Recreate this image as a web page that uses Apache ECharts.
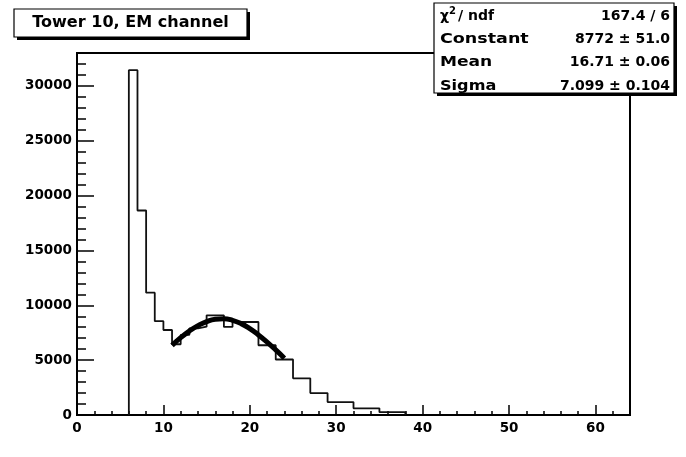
<!DOCTYPE html>
<html>
<head>
<meta charset="utf-8">
<script src="https://cdn.jsdelivr.net/npm/echarts@6/dist/echarts.min.js"></script>
<style>
html,body{margin:0;padding:0;background:#fff;}
#c{width:686px;height:457px;}
</style>
</head>
<body>
<div id="c"></div>
<script>
// Histogram bins (low edges ... last high edge) and counts
const binEdges = [6, 7, 8, 9, 10, 11, 12, 13, 14, 15, 17, 18, 21, 23, 25, 27, 29, 32, 35, 38];
const binCounts = [31430, 18640, 11150, 8550, 7750, 6450, 7300, 7900, 8050, 9090, 8030, 8480, 6360, 5060, 3340, 2000, 1180, 610, 260];
// Fit curve points
const fitX = [11, 12, 13, 14, 15, 16, 17, 18, 19, 20, 21, 22, 23, 24];
const fitY = [6350, 7050, 7650, 8150, 8520, 8730, 8770, 8630, 8330, 7880, 7300, 6650, 5930, 5180];
// Text
const titleText = 'Tower 10, EM channel';
const statLabels = ['Constant', 'Mean', 'Sigma'];
const statValues = ['167.4 / 6', '8772 ± 51.0', '16.71 ± 0.06', '7.099 ± 0.104'];

const histData = [[binEdges[0], 0]];
for (let i = 0; i < binCounts.length; i++) histData.push([binEdges[i + 1], binCounts[i]]);
histData.push([binEdges[binEdges.length - 1], 0]);
const fitData = fitX.map((x, i) => [x, fitY[i]]);

const FONT = '"DejaVu Sans", sans-serif';
const labelFont = { color: '#000', fontFamily: FONT, fontWeight: 'bold', fontSize: 13.5, formatter: v => String(v) };

const rowY = [16, 39, 62.5, 86];
const statGraphics = [
  { type: 'rect', z: 100, shape: { x: 437, y: 6, width: 240, height: 90 }, style: { fill: '#000' } },
  { type: 'rect', z: 101, shape: { x: 434, y: 3, width: 240, height: 90 }, style: { fill: '#fff', stroke: '#000', lineWidth: 1.2 } },
  { type: 'text', z: 102, x: 440, y: rowY[0], style: { text: 'χ', font: 'bold 14px ' + FONT, textAlign: 'left', textVerticalAlign: 'middle', fill: '#000' } },
  { type: 'text', z: 102, x: 449, y: rowY[0] - 5, style: { text: '2', font: 'bold 10px ' + FONT, textAlign: 'left', textVerticalAlign: 'middle', fill: '#000' } },
  { type: 'text', z: 102, x: 458, y: rowY[0], style: { text: '/ ndf', font: 'bold 14px ' + FONT, textAlign: 'left', textVerticalAlign: 'middle', fill: '#000' } }
];
const labelScale = [1.25, 1.22, 1.15];
statLabels.forEach((t, i) => {
  statGraphics.push({ type: 'text', z: 102, x: 440, y: rowY[i + 1], scaleX: labelScale[i],
    style: { text: t, font: 'bold 14px ' + FONT, textAlign: 'left', textVerticalAlign: 'middle', fill: '#000' } });
});
statValues.forEach((t, i) => {
  statGraphics.push({ type: 'text', z: 102, x: 670, y: rowY[i],
    style: { text: t, font: 'bold 14px ' + FONT, textAlign: 'right', textVerticalAlign: 'middle', fill: '#000' } });
});

const chart = echarts.init(document.getElementById('c'), null, { renderer: 'canvas' });
chart.setOption({
  animation: false,
  backgroundColor: '#fff',
  grid: { left: 77, top: 53, right: 56, bottom: 42, containLabel: false, outerBoundsMode: 'none',
    show: true, borderColor: '#000', borderWidth: 2, backgroundColor: 'transparent' },
  xAxis: {
    type: 'value', min: 0, max: 64, interval: 10,
    axisLine: { show: true, onZero: false, lineStyle: { color: '#000', width: 2 } },
    axisTick: { show: true, inside: true, length: 10, lineStyle: { color: '#000', width: 1.5 } },
    minorTick: { show: true, splitNumber: 5, length: 4, lineStyle: { color: '#000', width: 1.5 } },
    splitLine: { show: false },
    axisLabel: Object.assign({ margin: 6, showMaxLabel: false }, labelFont)
  },
  yAxis: {
    type: 'value', min: 0, max: 33000, interval: 5000,
    axisLine: { show: true, onZero: false, lineStyle: { color: '#000', width: 2 } },
    axisTick: { show: true, inside: true, length: 17, lineStyle: { color: '#000', width: 1.5 } },
    minorTick: { show: true, splitNumber: 5, length: 9, lineStyle: { color: '#000', width: 1.5 } },
    splitLine: { show: false },
    axisLabel: Object.assign({ margin: 5, showMaxLabel: false }, labelFont)
  },
  series: [
    {
      type: 'line', data: histData, step: 'start', symbol: 'none', silent: true,
      lineStyle: { color: '#111', width: 1.8 }, z: 2
    },
    {
      type: 'line', data: fitData, smooth: true, symbol: 'none', silent: true,
      lineStyle: { color: '#000', width: 5 }, z: 3
    }
  ],
  graphic: [
    { type: 'rect', z: 100, shape: { x: 17, y: 12, width: 233, height: 28 }, style: { fill: '#000' } },
    { type: 'rect', z: 101, shape: { x: 14, y: 9, width: 233, height: 28 }, style: { fill: '#fff', stroke: '#000', lineWidth: 1.2 } },
    { type: 'text', z: 102, x: 130.5, y: 23, scaleX: 1.07,
      style: { text: titleText, font: 'bold 15px ' + FONT, textAlign: 'center', textVerticalAlign: 'middle', fill: '#000' } }
  ].concat(statGraphics)
});
</script>
</body>
</html>
